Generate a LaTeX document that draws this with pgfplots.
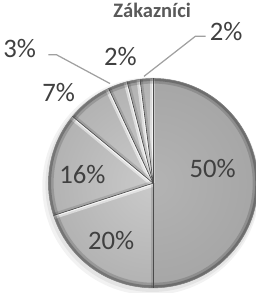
\documentclass[border=0pt]{standalone}
\usepackage{pgfplots}
\pgfplotsset{compat=1.18}
\usepackage{pgfplotstable}
\usepackage{fontspec}
\setmainfont{Carlito}
\usepackage{etoolbox}
\definecolor{txt}{HTML}{404040}
\definecolor{ttl}{HTML}{595959}
\definecolor{darkslice}{HTML}{A6A6A6}
\definecolor{lightin}{HTML}{CACACA}
\definecolor{lightout}{HTML}{B2B2B2}
\definecolor{edge}{HTML}{4A4A4A}
\definecolor{leader}{HTML}{A0A0A0}

% share of each slice (clockwise from 12 o'clock) and label position
\pgfplotstableread{
share lx ly
50 210 121
20 111 51
16 83 115
7 60 195
3 22 238
2 120 230
2 223 255
}\piedata

\def\cx{152}\def\cy{107}\def\R{102}
\gdef\cumangle{90}
\gdef\piecmds{}
\gdef\edgecmds{}
\pgfplotstablegetrowsof{\piedata}
\pgfmathtruncatemacro\nrows{\pgfplotsretval-1}
\foreach \i in {0,...,\nrows}{%
  \pgfplotstablegetelem{\i}{share}\of\piedata
  \let\v\pgfplotsretval
  \pgfplotstablegetelem{\i}{lx}\of\piedata
  \let\lx\pgfplotsretval
  \pgfplotstablegetelem{\i}{ly}\of\piedata
  \let\ly\pgfplotsretval
  \pgfmathsetmacro\a{\cumangle}%
  \pgfmathsetmacro\b{\cumangle-3.6*\v}%
  \xdef\cumangle{\b}%
  \ifnum\i=0
    \xappto\piecmds{%
      \noexpand\begin{scope}
      \noexpand\clip (axis cs:\cx,\cy) -- ++(\a:\R pt) arc[start angle=\a,end angle=\b,radius=\R pt] -- cycle;
      \noexpand\shade[inner color=darkslice!85!white,outer color=darkslice] (axis cs:\cx,\cy) circle[radius=\R pt];
      \noexpand\draw[white,opacity=0.35,line width=4pt] (axis cs:\cx,\cy) -- ++(\a:\R pt);
      \noexpand\end{scope}
    }%
  \else
    \xappto\piecmds{%
      \noexpand\begin{scope}
      \noexpand\clip (axis cs:\cx,\cy) -- ++(\a:\R pt) arc[start angle=\a,end angle=\b,radius=\R pt] -- cycle;
      \noexpand\shade[inner color=lightin,outer color=lightout] (axis cs:\cx,\cy) circle[radius=\R pt];
      \noexpand\draw[white,opacity=0.5,line width=7pt] (axis cs:\cx,\cy) -- ++(\b:\R pt);
      \noexpand\draw[white,opacity=0.75,line width=3pt] (axis cs:\cx,\cy) -- ++(\b:\R pt);
      \noexpand\draw[black,opacity=0.12,line width=5pt] (axis cs:\cx,\cy) -- ++(\a:\R pt);
      \noexpand\end{scope}
    }%
  \fi
  \xappto\edgecmds{%
    \noexpand\draw[edge,line width=0.6pt] (axis cs:\cx,\cy) -- ++(\a:\R pt);
    \noexpand\node[txt,font=\noexpand\fontsize{26}{26}\noexpand\selectfont] at (axis cs:\lx,\ly) {\v\noexpand\%};
  }%
}

\begin{document}
\begin{tikzpicture}
\begin{axis}[
  width=252pt, height=293pt, scale only axis,
  xmin=0, xmax=252, ymin=0, ymax=293,
  hide axis, clip=true,
]
% soft shadow
\fill[black,opacity=0.05] (axis cs:150,104) circle[radius=106pt];
\fill[black,opacity=0.06] (axis cs:151,105) circle[radius=104pt];
\piecmds
% dark rim
\begin{scope}
\clip (axis cs:\cx,\cy) circle[radius=\R pt];
\draw[black,opacity=0.22,line width=5pt] (axis cs:\cx,\cy) circle[radius=\R pt];
\draw[black,opacity=0.15,line width=10pt] (axis cs:\cx,\cy) circle[radius=\R pt];
\end{scope}
\draw[edge!70,line width=0.5pt] (axis cs:\cx,\cy) circle[radius=\R pt];
\edgecmds
% leader lines
\draw[leader,line width=1.2pt] (axis cs:50,232) -- (axis cs:58,232) -- (axis cs:110,204);
\draw[leader,line width=1.2pt] (axis cs:203,250) -- (axis cs:193,250) -- (axis cs:143,211);
% title
\node[ttl,font=\bfseries\fontsize{20}{20}\selectfont] at (axis cs:151,275) {Zákazníci};
\end{axis}
\end{tikzpicture}
\end{document}
